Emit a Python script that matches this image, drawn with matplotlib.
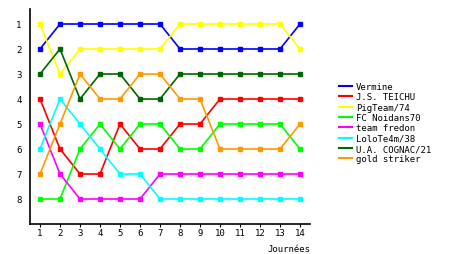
import matplotlib
matplotlib.use("Agg")
import matplotlib.pyplot as plt
from matplotlib.lines import Line2D

journees = list(range(1, 15))
teams = ["Vermine", "J.S. TEICHU", "PigTeam/74", "FC Noidans70",
         "team fredon", "LoloTe4m/38", "U.A. COGNAC/21", "gold striker"]
colors = ["#0000ff", "#ff0000", "#ffff00", "#00ff00",
          "#ff00ff", "#00ffff", "#006600", "#ff9900"]

vermine = [2, 1, 1, 1, 1, 1, 1, 2, 2, 2, 2, 2, 2, 1]
teichu = [4, 6, 7, 7, 5, 6, 6, 5, 5, 4, 4, 4, 4, 4]
pigteam = [1, 3, 2, 2, 2, 2, 2, 1, 1, 1, 1, 1, 1, 2]
noidans = [8, 8, 6, 5, 6, 5, 5, 6, 6, 5, 5, 5, 5, 6]
fredon = [5, 7, 8, 8, 8, 8, 7, 7, 7, 7, 7, 7, 7, 7]
lolo = [6, 4, 5, 6, 7, 7, 8, 8, 8, 8, 8, 8, 8, 8]
cognac = [3, 2, 4, 3, 3, 4, 4, 3, 3, 3, 3, 3, 3, 3]
gold = [7, 5, 3, 4, 4, 3, 3, 4, 4, 6, 6, 6, 6, 5]
ranks = [vermine, teichu, pigteam, noidans, fredon, lolo, cognac, gold]

plt.rcParams['font.family'] = ['DejaVu Sans Mono']
plt.rcParams['font.size'] = 6.5

W, H = 460, 255
fig = plt.figure(figsize=(W / 100, H / 100), dpi=100)
ax = fig.add_axes([30 / W, (H - 225) / H, 280 / W, 215 / H])

for r, c in zip(ranks, colors):
    ax.plot(journees, r, color=c, lw=1.2, marker="s", ms=2.2, mec=c, mfc=c)

ax.set_xlim(0.5, 14.5)
ax.set_ylim(9, 0.4)
ax.set_xticks(journees)
ax.set_yticks(range(1, 9))
ax.spines['top'].set_visible(False)
ax.spines['right'].set_visible(False)
ax.spines['left'].set_linewidth(1.2)
ax.spines['bottom'].set_linewidth(1.2)
ax.tick_params(axis='y', length=0, pad=6)
ax.tick_params(axis='x', length=2, pad=1)
fig.text(310 / W, 1 - 252 / H, "Journées", ha="right", va="baseline")

handles = [Line2D([], [], color=c, lw=1.5) for c in colors]
fig.legend(handles, teams, loc="upper left", bbox_to_anchor=(339 / W, 1 - 83 / H),
           frameon=False, handlelength=1.4, handletextpad=0.5,
           labelspacing=0.15, borderpad=0, borderaxespad=0)

fig.savefig("out.png", dpi=100)
